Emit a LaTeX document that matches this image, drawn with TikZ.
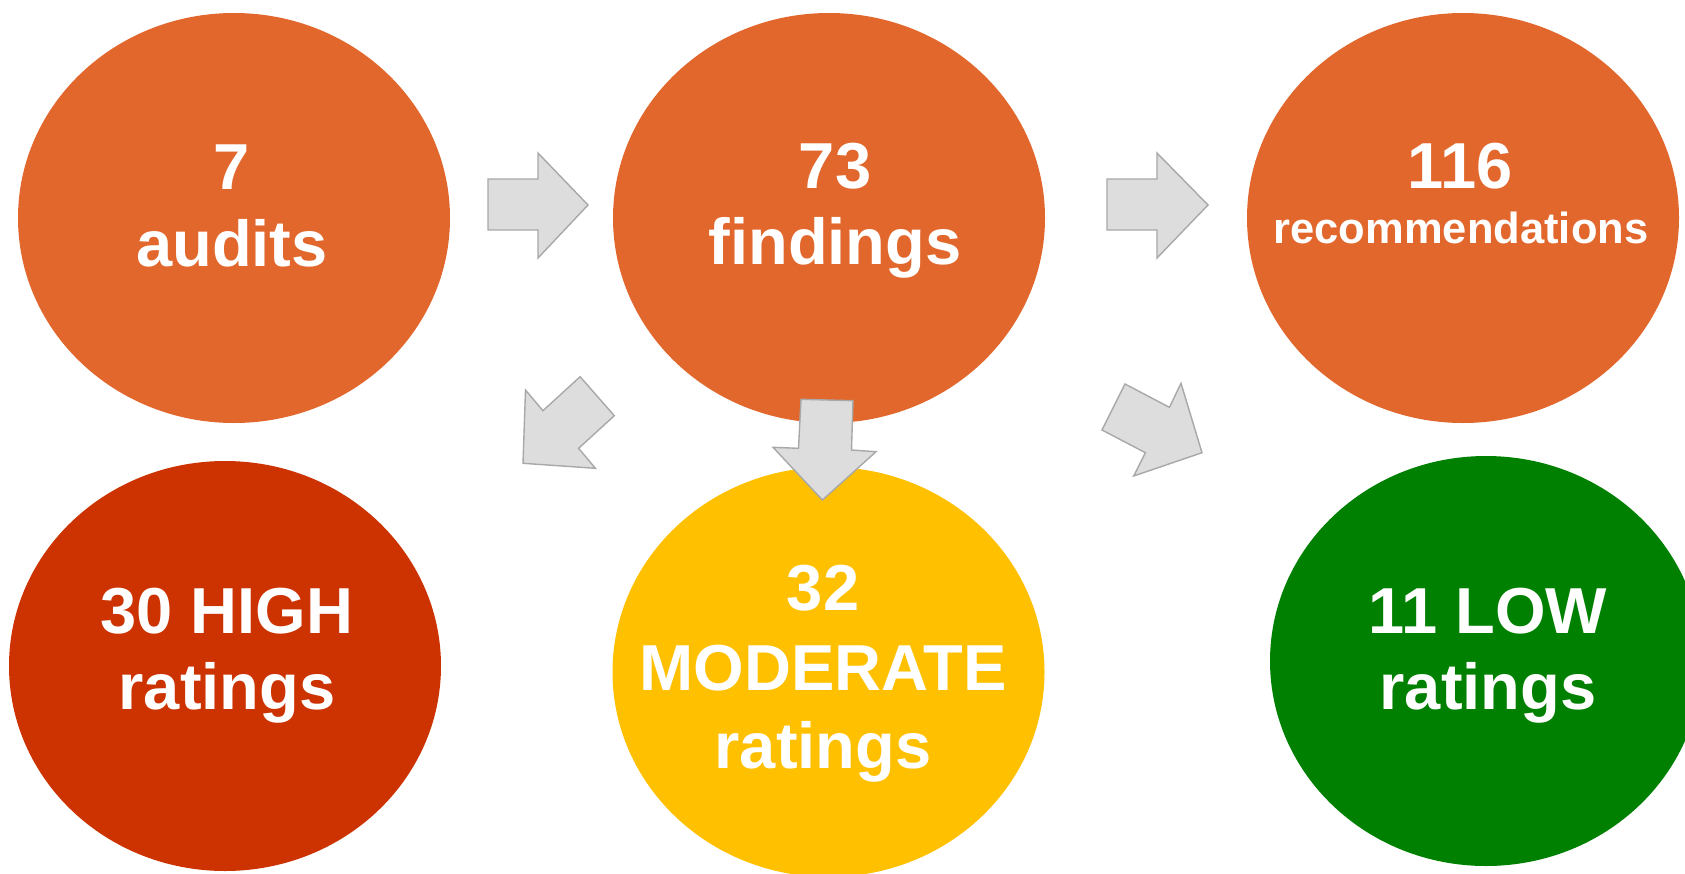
\documentclass[tikz,border=0pt]{standalone}
\usepackage{fontspec}
\setmainfont{Liberation Sans}
\usetikzlibrary{shapes.geometric}
\definecolor{auditorange}{HTML}{E2672C}
\definecolor{highred}{HTML}{CC3300}
\definecolor{modyellow}{HTML}{FFC000}
\definecolor{lowgreen}{HTML}{008000}
\definecolor{arrowfill}{HTML}{DDDDDD}
\definecolor{arrowline}{HTML}{A8A8A8}
\begin{document}
\begin{tikzpicture}[x=1pt,y=-1pt,
  bubble/.style={ellipse, inner sep=0pt, minimum width=432pt, minimum height=410pt, draw=none},
  bigtxt/.style={anchor=base, inner sep=0pt, text=white, font=\bfseries\fontsize{65}{78}\selectfont},
  smalltxt/.style={anchor=base, inner sep=0pt, text=white, font=\bfseries\fontsize{43.5}{52}\selectfont},
  blockarrow/.style={fill=arrowfill, draw=arrowline, line width=1.4pt, line join=miter}]
\useasboundingbox (0,0) rectangle (1685,873);
\clip (0,0) rectangle (1685,873);

% bubbles
\node[bubble, fill=auditorange] (audits) at (234,218) {};
\node[bubble, fill=auditorange] (findings) at (829,218) {};
\node[bubble, fill=auditorange] (recs) at (1463,218) {};
\node[bubble, fill=highred] (high) at (225,666) {};
\node[bubble, fill=modyellow] (moderate) at (828.5,672) {};
\node[bubble, fill=lowgreen] (low) at (1486,661) {};

% labels
\node[bigtxt] (auditsnum) at (232,189) {7};
\node[bigtxt] (auditstxt) at (232,266) {audits};
\node[bigtxt] (findnum) at (835,188) {73};
\node[bigtxt] (findtxt) at (835,264) {findings};
\node[bigtxt] (recsnum) at (1460,188) {116};
\node[smalltxt] (recstxt) at (1461,243) {recommendations};
\node[bigtxt] (highnum) at (227,633) {30 HIGH};
\node[bigtxt] (hightxt) at (227,709) {ratings};
\node[bigtxt] (modnum) at (823,610) {32};
\node[bigtxt] (modmid) at (823,690) {MODERATE};
\node[bigtxt] (modtxt) at (823,768) {ratings};
\node[bigtxt] (lownum) at (1488,633) {11 LOW};
\node[bigtxt] (lowtxt) at (1488,709) {ratings};

% block arrows
\draw[blockarrow] (488,179) -- (538,179) -- (538,153) -- (588,205) -- (538,258) -- (538,230) -- (488,230) -- cycle;
\draw[blockarrow] (1107,179) -- (1157,179) -- (1157,153) -- (1208,205) -- (1157,258) -- (1157,230) -- (1107,230) -- cycle;
\draw[blockarrow] (525.5,390) -- (542.9,410.7) -- (580.1,376.7) -- (614.3,415.7) -- (578.6,448.3) -- (595.4,468.3) -- (523,463.3) -- cycle;
\draw[blockarrow] (801,399.3) -- (853,400.7) -- (851.5,450) -- (876,451.7) -- (822.4,500) -- (773,447.3) -- (798.5,448.3) -- cycle;
\draw[blockarrow] (1125,384) -- (1169.4,407.3) -- (1181,383.3) -- (1202,452.7) -- (1133.7,476) -- (1145.4,452.7) -- (1102,430) -- cycle;
\end{tikzpicture}
\end{document}
